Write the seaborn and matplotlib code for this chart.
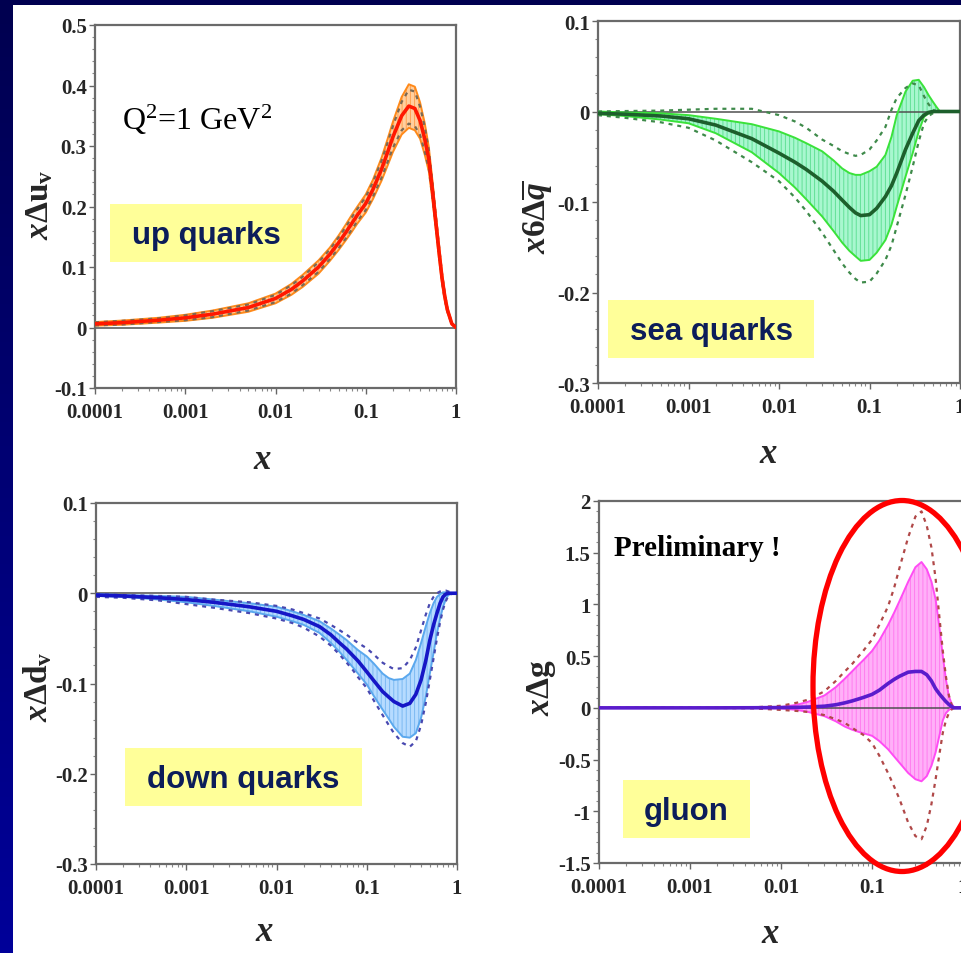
import numpy as np
import pandas as pd
import matplotlib
matplotlib.use("Agg")
import matplotlib.pyplot as plt
import seaborn as sns
from matplotlib.patches import Rectangle, Ellipse
from matplotlib.colors import LinearSegmentedColormap
from matplotlib.ticker import NullFormatter, MultipleLocator, LogLocator

# ---------------- data ----------------
x_ticks = [1e-4, 1e-3, 1e-2, 1e-1, 1.0]
x_ticklabels = ["0.0001", "0.001", "0.01", "0.1", "1"]

# common x grid at which the curves were read
x_grid = [1e-4, 2e-4, 5e-4, 1e-3, 2e-3, 5e-3,
          0.01, 0.015, 0.02, 0.03, 0.04, 0.05, 0.06, 0.07, 0.08,
          0.1, 0.12, 0.15, 0.175, 0.2, 0.25, 0.3, 0.35, 0.4,
          0.45, 0.5, 0.55, 0.6, 0.65, 0.7, 0.75, 0.8, 0.9, 1.0]

# up quarks  x*Delta u_v
up_central = [0.006, 0.008, 0.012, 0.016, 0.022, 0.033,
              0.048, 0.063, 0.077, 0.100, 0.121, 0.140, 0.157, 0.172, 0.185,
              0.205, 0.228, 0.262, 0.290, 0.315, 0.350, 0.366, 0.362, 0.342,
              0.312, 0.278, 0.225, 0.172, 0.124, 0.082, 0.052, 0.030, 0.006, 0.0]
up_upper = [0.009, 0.0115, 0.016, 0.021, 0.028, 0.040,
            0.056, 0.072, 0.087, 0.111, 0.132, 0.152, 0.170, 0.186, 0.199,
            0.220, 0.244, 0.281, 0.312, 0.340, 0.381, 0.402, 0.398, 0.372,
            0.338, 0.298, 0.241, 0.185, 0.135, 0.091, 0.058, 0.034, 0.007, 0.0]
up_lower = [0.003, 0.0045, 0.008, 0.011, 0.016, 0.026,
            0.040, 0.054, 0.067, 0.089, 0.110, 0.128, 0.144, 0.158, 0.171,
            0.190, 0.212, 0.243, 0.268, 0.290, 0.319, 0.330, 0.326, 0.312,
            0.286, 0.258, 0.209, 0.159, 0.113, 0.073, 0.046, 0.026, 0.005, 0.0]
up_dash_hi = [0.0085, 0.011, 0.015, 0.020, 0.027, 0.038,
              0.054, 0.070, 0.084, 0.108, 0.129, 0.149, 0.166, 0.182, 0.195,
              0.216, 0.240, 0.276, 0.306, 0.333, 0.373, 0.393, 0.390, 0.365,
              0.332, 0.293, 0.238, 0.182, 0.133, 0.089, 0.057, 0.033, 0.007, 0.0]
up_dash_lo = [0.0035, 0.005, 0.009, 0.012, 0.017, 0.028,
              0.042, 0.056, 0.070, 0.092, 0.113, 0.131, 0.147, 0.162, 0.175,
              0.194, 0.216, 0.248, 0.274, 0.297, 0.326, 0.337, 0.333, 0.318,
              0.291, 0.262, 0.212, 0.162, 0.115, 0.075, 0.047, 0.027, 0.005, 0.0]

# sea quarks  x*6*Delta qbar
sea_central = [-0.002, -0.003, -0.005, -0.008, -0.015, -0.030,
               -0.046, -0.056, -0.064, -0.077, -0.088, -0.098, -0.106, -0.112, -0.115,
               -0.114, -0.107, -0.094, -0.082, -0.068, -0.042, -0.024, -0.010, -0.004,
               -0.001, 0.0, 0.0, 0.0, 0.0, 0.0, 0.0, 0.0, 0.0, 0.0]
sea_upper = [0.0, -0.001, -0.002, -0.004, -0.008, -0.014,
             -0.022, -0.029, -0.035, -0.044, -0.054, -0.063, -0.068, -0.070, -0.070,
             -0.066, -0.061, -0.048, -0.028, -0.004, 0.022, 0.034, 0.035, 0.027,
             0.018, 0.011, 0.005, 0.0, 0.0, 0.0, 0.0, 0.0, 0.0, 0.0]
sea_lower = [-0.003, -0.005, -0.009, -0.013, -0.024, -0.045,
             -0.068, -0.084, -0.097, -0.116, -0.132, -0.145, -0.154, -0.160, -0.165,
             -0.164, -0.156, -0.142, -0.125, -0.105, -0.072, -0.046, -0.022, -0.006,
             -0.002, -0.001, 0.0, 0.0, 0.0, 0.0, 0.0, 0.0, 0.0, 0.0]
sea_dash_hi = [0.0, 0.0005, 0.001, 0.002, 0.003, 0.003,
               -0.004, -0.011, -0.018, -0.031, -0.038, -0.044, -0.047, -0.049, -0.048,
               -0.042, -0.032, -0.017, 0.002, 0.015, 0.026, 0.031, 0.029, 0.017,
               0.008, 0.002, 0.0, 0.0, 0.0, 0.0, 0.0, 0.0, 0.0, 0.0]
sea_dash_lo = [-0.004, -0.007, -0.012, -0.018, -0.032, -0.056,
               -0.077, -0.095, -0.110, -0.134, -0.153, -0.168, -0.178, -0.185, -0.189,
               -0.188, -0.179, -0.164, -0.148, -0.127, -0.092, -0.061, -0.033, -0.013,
               -0.005, -0.002, -0.001, 0.0, 0.0, 0.0, 0.0, 0.0, 0.0, 0.0]

# down quarks  x*Delta d_v
dn_central = [-0.002, -0.003, -0.005, -0.007, -0.010, -0.015,
              -0.020, -0.025, -0.029, -0.037, -0.046, -0.055, -0.062, -0.069, -0.075,
              -0.087, -0.097, -0.109, -0.115, -0.120, -0.125, -0.122, -0.112, -0.096,
              -0.075, -0.052, -0.035, -0.022, -0.011, -0.004, -0.001, 0.0, 0.0, 0.0]
dn_upper = [-0.001, -0.002, -0.003, -0.004, -0.007, -0.011,
            -0.015, -0.020, -0.024, -0.031, -0.039, -0.046, -0.052, -0.058, -0.063,
            -0.070, -0.078, -0.089, -0.094, -0.096, -0.095, -0.089, -0.074, -0.055,
            -0.037, -0.022, -0.011, -0.004, -0.001, 0.001, 0.001, 0.0, 0.0, 0.0]
dn_lower = [-0.003, -0.004, -0.007, -0.010, -0.014, -0.020,
            -0.026, -0.031, -0.035, -0.044, -0.055, -0.065, -0.074, -0.082, -0.089,
            -0.101, -0.114, -0.129, -0.139, -0.148, -0.159, -0.160, -0.155, -0.138,
            -0.115, -0.089, -0.066, -0.044, -0.028, -0.015, -0.007, -0.002, 0.0, 0.0]
dn_dash_hi = [-0.001, -0.002, -0.003, -0.004, -0.007, -0.010,
              -0.014, -0.018, -0.022, -0.028, -0.035, -0.041, -0.046, -0.051, -0.055,
              -0.061, -0.068, -0.077, -0.081, -0.084, -0.083, -0.074, -0.060, -0.041,
              -0.024, -0.011, -0.004, 0.0, 0.002, 0.003, 0.003, 0.002, 0.0, 0.0]
dn_dash_lo = [-0.004, -0.005, -0.008, -0.012, -0.016, -0.022,
              -0.028, -0.033, -0.038, -0.048, -0.058, -0.068, -0.077, -0.085, -0.093,
              -0.105, -0.119, -0.135, -0.146, -0.155, -0.166, -0.170, -0.164, -0.146,
              -0.122, -0.096, -0.072, -0.050, -0.032, -0.018, -0.009, -0.003, 0.0, 0.0]

# gluon  x*Delta g
gl_central = [0.0, 0.0, 0.0, 0.0, 0.0, 0.001,
              0.003, 0.005, 0.008, 0.016, 0.030, 0.048, 0.066, 0.084, 0.100,
              0.130, 0.170, 0.235, 0.275, 0.305, 0.345, 0.352, 0.352, 0.320,
              0.260, 0.185, 0.135, 0.095, 0.060, 0.033, 0.012, 0.0, 0.0, 0.0]
gl_upper = [0.0, 0.0, 0.0, 0.0, 0.001, 0.002,
            0.008, 0.03, 0.06, 0.12, 0.20, 0.28, 0.35, 0.41, 0.46,
            0.55, 0.65, 0.80, 0.92, 1.03, 1.22, 1.36, 1.41, 1.34,
            1.22, 1.05, 0.78, 0.50, 0.27, 0.11, 0.04, 0.0, 0.0, 0.0]
gl_lower = [0.0, 0.0, 0.0, 0.0, -0.001, -0.002,
            -0.006, -0.02, -0.04, -0.08, -0.13, -0.18, -0.21, -0.23, -0.245,
            -0.27, -0.32, -0.40, -0.47, -0.53, -0.63, -0.69, -0.71, -0.66,
            -0.56, -0.43, -0.27, -0.12, -0.05, -0.02, -0.005, 0.0, 0.0, 0.0]
gl_dash_hi = [0.0, 0.0, 0.0, 0.0, 0.001, 0.005,
              0.02, 0.05, 0.08, 0.16, 0.26, 0.35, 0.42, 0.49, 0.55,
              0.66, 0.80, 0.98, 1.16, 1.35, 1.65, 1.85, 1.90, 1.76,
              1.55, 1.25, 0.88, 0.55, 0.30, 0.12, 0.03, 0.0, 0.0, 0.0]
gl_dash_lo = [0.0, 0.0, 0.0, 0.0, -0.001, -0.005,
              -0.02, -0.03, -0.04, -0.07, -0.11, -0.145, -0.19, -0.23, -0.26,
              -0.34, -0.46, -0.63, -0.76, -0.88, -1.11, -1.24, -1.27, -1.14,
              -0.93, -0.69, -0.45, -0.24, -0.12, -0.05, -0.015, 0.0, 0.0, 0.0]

up_yticks = [-0.1, 0, 0.1, 0.2, 0.3, 0.4, 0.5]
up_yticklabels = ["-0.1", "0", "0.1", "0.2", "0.3", "0.4", "0.5"]
q_yticks = [-0.3, -0.2, -0.1, 0, 0.1]
q_yticklabels = ["-0.3", "-0.2", "-0.1", "0", "0.1"]
gl_yticks = [-1.5, -1, -0.5, 0, 0.5, 1, 1.5, 2]
gl_yticklabels = ["-1.5", "-1", "-0.5", "0", "0.5", "1", "1.5", "2"]

# ---------------- figure ----------------
sns.set_theme(style="white")
plt.rcParams['font.family'] = ['Liberation Serif', 'DejaVu Serif']
plt.rcParams['mathtext.fontset'] = 'custom'
plt.rcParams['mathtext.rm'] = 'Liberation Serif:bold'
plt.rcParams['mathtext.it'] = 'Liberation Serif:italic:bold'
plt.rcParams['mathtext.bf'] = 'Liberation Serif:bold'
plt.rcParams['hatch.linewidth'] = 0.7

W, H = 961, 954
fig = plt.figure(figsize=(W / 100, H / 100), dpi=100, facecolor='white')


def add_axes_px(l, t, r, b):
    return fig.add_axes([l / W, 1 - b / H, (r - l) / W, (b - t) / H])


def draw_panel(ax, x, central, upper, lower, dhi, dlo, sty, ylim, yticks, yticklabels,
               yminor, ylabel, ylab_xy, xlab_xy):
    ax.set_xscale('log')
    ax.set_facecolor('white')
    ax.fill_between(x, lower, upper, facecolor=sty['fill'], edgecolor=sty['hatch'],
                    hatch='||||', linewidth=0, zorder=1)
    ax.axhline(0, color='#505050', lw=1.1, zorder=2)
    df = pd.DataFrame({'x': x, 'central': central, 'upper': upper, 'lower': lower,
                       'dhi': dhi, 'dlo': dlo})
    for col in ['upper', 'lower']:
        sns.lineplot(data=df, x='x', y=col, ax=ax, color=sty['edge'], lw=1.4,
                     estimator=None, zorder=3)
    for col in ['dhi', 'dlo']:
        sns.lineplot(data=df, x='x', y=col, ax=ax, color=sty['dash'], lw=1.6,
                     linestyle=(0, (1.8, 2.2)), estimator=None, zorder=4)
    sns.lineplot(data=df, x='x', y='central', ax=ax, color=sty['central'], lw=2.6,
                 estimator=None, zorder=5)
    ax.set_xlim(1e-4, 1)
    ax.set_ylim(*ylim)
    ax.set_xticks(x_ticks, labels=x_ticklabels)
    ax.xaxis.set_minor_locator(LogLocator(base=10, subs=np.arange(2, 10)))
    ax.xaxis.set_minor_formatter(NullFormatter())
    ax.set_yticks(yticks, labels=yticklabels)
    ax.yaxis.set_minor_locator(MultipleLocator(yminor))
    ax.tick_params(axis='both', which='major', direction='out', length=4, width=1,
                   color='#666666', labelsize=15, bottom=True, left=True)
    ax.tick_params(axis='both', which='minor', direction='out', length=2.5, width=0.8,
                   color='#888888', bottom=True, left=True)
    ax.tick_params(axis='x', which='major', pad=6)
    ax.tick_params(axis='y', which='major', pad=2)
    for lab in ax.get_xticklabels() + ax.get_yticklabels():
        lab.set_fontweight('bold')
        lab.set_family('Liberation Serif')
    for sp in ax.spines.values():
        sp.set_color('#6a6a6a')
        sp.set_linewidth(1.6)
    ax.set_ylabel(ylabel, fontsize=24, rotation=90)
    ax.yaxis.label.set_va('center')
    ax.yaxis.label.set_ha('center')
    ax.yaxis.set_label_coords(*ylab_xy)
    ax.set_xlabel('$x$', fontsize=25)
    ax.xaxis.label.set_va('center')
    ax.xaxis.set_label_coords(*xlab_xy)
    ax.grid(False)


sty_up = dict(fill='#ffcf9e', hatch='#ffa050', edge='#ff8a1a', central='#ff1800',
              dash='#7a6a55')
sty_sea = dict(fill='#a8f7cf', hatch='#62e096', edge='#3ae23a', central='#1d5f2c',
               dash='#3e8a4a')
sty_dn = dict(fill='#b6dbff', hatch='#7cb9f2', edge='#5aa8ee', central='#1616c6',
              dash='#4848b0')
sty_gl = dict(fill='#ffb0f8', hatch='#ff7cef', edge='#ff4cf4', central='#5a1ccc',
              dash='#b04848')

ax1 = add_axes_px(95, 26, 456, 389)
draw_panel(ax1, x_grid, up_central, up_upper, up_lower, up_dash_hi, up_dash_lo, sty_up,
           (-0.1, 0.5), up_yticks, up_yticklabels, 0.02,
           r'$x\Delta\mathrm{u}_{\mathrm{v}}$', (-0.152, 0.507), (0.465, -0.196))

ax2 = add_axes_px(598, 22, 960, 384)
draw_panel(ax2, x_grid, sea_central, sea_upper, sea_lower, sea_dash_hi, sea_dash_lo,
           sty_sea, (-0.3, 0.1), q_yticks, q_yticklabels, 0.02,
           r'$x\mathit{6}\Delta\overline{q}$', (-0.17, 0.461), (0.47, -0.196))

ax3 = add_axes_px(96, 504, 457, 865)
draw_panel(ax3, x_grid, dn_central, dn_upper, dn_lower, dn_dash_hi, dn_dash_lo, sty_dn,
           (-0.3, 0.1), q_yticks, q_yticklabels, 0.02,
           r'$x\Delta\mathrm{d}_{\mathrm{v}}$', (-0.161, 0.493), (0.468, -0.188))

ax4 = add_axes_px(599, 502, 963, 864)
draw_panel(ax4, x_grid, gl_central, gl_upper, gl_lower, gl_dash_hi, gl_dash_lo, sty_gl,
           (-1.5, 2.0), gl_yticks, gl_yticklabels, 0.1,
           r'$x\Delta\mathrm{g}$', (-0.159, 0.486), (0.47, -0.196))

# ---------------- annotations ----------------
def px_text(xp, yp, s, **kw):
    fig.text(xp / W, 1 - yp / H, s, **kw)


px_text(197, 120, r'Q$^{\mathregular{2}}$=1 GeV$^{\mathregular{2}}$', fontsize=23,
        ha='center', va='center', family='Liberation Serif', color='black')
px_text(697, 548, 'Preliminary !', fontsize=21, ha='center', va='center',
        family='Liberation Serif', fontweight='bold', color='black')

boxes = [("up quarks", 110, 205, 302, 263),
         ("sea quarks", 608, 301, 814, 359),
         ("down quarks", 125, 749, 362, 807),
         ("gluon", 623, 781, 750, 839)]
for label, l, t, r, b in boxes:
    fig.patches.append(Rectangle((l / W, 1 - b / H), (r - l) / W, (b - t) / H,
                                 transform=fig.transFigure, facecolor='#ffff99',
                                 edgecolor='none', zorder=6))
    px_text((l + r) / 2, (t + b) / 2 + 2, label, fontsize=22.5, ha='center',
            va='center', family='Liberation Sans', fontweight='bold',
            color='#0c1d5a', zorder=7)

# red ellipse highlighting the gluon peak
fig.patches.append(Ellipse((902 / W, 1 - 687 / H), 178 / W, 371 / H,
                           transform=fig.transFigure, facecolor='none',
                           edgecolor='#ff0000', lw=3.8, zorder=8))

# dark-blue slide frame
fig.patches.append(Rectangle((0, 1 - 6 / H), 1, 6 / H, transform=fig.transFigure,
                             facecolor='#000050', edgecolor='none', zorder=9))
axbg = fig.add_axes([0, 0, 13 / W, 1 - 6 / H])
cmap = LinearSegmentedColormap.from_list('frame', ['#000050', '#000099'])
axbg.imshow(np.linspace(0, 1, 200).reshape(-1, 1), cmap=cmap, aspect='auto',
            extent=[0, 1, 0, 1], origin='upper')
axbg.set_axis_off()

fig.savefig('out.png', dpi=100, facecolor='white')
